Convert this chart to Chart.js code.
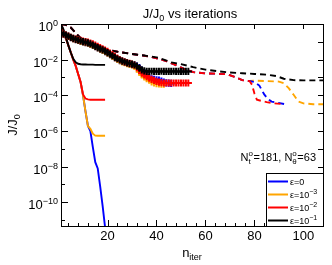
<!DOCTYPE html>
<html>
<head>
<meta charset="utf-8">
<script src="https://cdn.jsdelivr.net/npm/chart.js@4"></script>
<style>
  html, body { margin: 0; padding: 0; background: #fff; }
  canvas { display: block; }
</style>
</head>
<body>
<canvas id="chart" width="332" height="265"></canvas>
<script>
const FONT = '"Liberation Sans", Arial, sans-serif';

// Curvas continuas: iteraciones y log10(J/J0)
const solidIter = [1, 2, 3, 4, 5, 6, 7, 8, 9, 10, 11, 12, 13, 14, 15, 16, 17, 18, 19];
const blueSolid   = [0, -0.4, -0.8, -1.2, -1.6, -2.0, -2.35, -2.8, -3.25, -4.0, -4.9, -5.72, -6.0, -6.9, -7.75, -8.1, -9.1, -10.2, -11.4];
const orangeSolid = [0, -0.4, -0.8, -1.2, -1.6, -2.0, -2.35, -2.8, -3.25, -4.0, -4.9, -5.72, -5.88, -6.15, -6.26, -6.27, -6.27, -6.27, -6.27];
const redSolid    = [0, -0.4, -0.8, -1.2, -1.6, -2.0, -2.35, -2.8, -3.25, -3.95, -4.18, -4.23, -4.25, -4.25, -4.25, -4.25, -4.25, -4.25, -4.25];
const blackSolid  = [0, -0.3, -0.75, -1.2, -1.6, -1.95, -2.15, -2.23, -2.26, -2.27, -2.27, -2.28, -2.28, -2.28, -2.29, -2.29, -2.29, -2.29, -2.29];

// Curvas con cruces (una por iteración)
const plusIter = [1, 2, 3, 4, 5, 6, 7, 8, 9, 10, 11, 12, 13, 14, 15, 16, 17, 18, 19, 20,
  21, 22, 23, 24, 25, 26, 27, 28, 29, 30, 31, 32, 33, 34, 35, 36, 37, 38, 39, 40,
  41, 42, 43, 44, 45, 46, 47, 48, 49, 50, 51, 52, 53];
const blackPlus = [-0.5, -0.55, -0.62, -0.68, -0.75, -0.81, -0.86, -0.9, -0.95, -0.99,
  -1.02, -1.06, -1.12, -1.18, -1.25, -1.32, -1.39, -1.45, -1.52, -1.6,
  -1.69, -1.78, -1.87, -1.95, -2.02, -2.08, -2.13, -2.18, -2.22, -2.25,
  -2.29, -2.36, -2.47, -2.57, -2.63, -2.66, -2.66, -2.65, -2.66, -2.66,
  -2.66, -2.65, -2.66, -2.66, -2.66, -2.66, -2.65, -2.66, -2.66, -2.66,
  -2.66, -2.66, -2.66];
const redPlus = [-0.5, -0.55, -0.62, -0.68, -0.75, -0.8, -0.84, -0.88, -0.92, -0.96,
  -0.99, -1.02, -1.07, -1.12, -1.18, -1.25, -1.32, -1.39, -1.46, -1.54,
  -1.63, -1.72, -1.82, -1.91, -1.99, -2.06, -2.12, -2.17, -2.21, -2.25,
  -2.3, -2.4, -2.6, -2.75, -2.85, -2.95, -3.03, -3.1, -3.16, -3.22,
  -3.26, -3.29, -3.31, -3.31, -3.31, -3.31, -3.31, -3.31, -3.31, -3.31,
  -3.31, -3.31, -3.31];
const orangePlus = [-0.5, -0.56, -0.63, -0.7, -0.77, -0.83, -0.88, -0.92, -0.97, -1.01,
  -1.04, -1.08, -1.14, -1.2, -1.27, -1.34, -1.41, -1.48, -1.55, -1.63,
  -1.72, -1.81, -1.9, -1.98, -2.06, -2.12, -2.17, -2.22, -2.26, -2.3,
  -2.36, -2.5, -2.68, -2.85, -2.97, -3.06, -3.15, -3.24, -3.3, -3.34,
  -3.36, -3.37, -3.38];
const bluePlus = [-0.5, -0.56, -0.63, -0.7, -0.77, -0.83, -0.88, -0.92, -0.97, -1.01,
  -1.04, -1.08, -1.14, -1.2, -1.27, -1.34, -1.41, -1.48, -1.55, -1.63,
  -1.72, -1.81, -1.9, -1.98, -2.05, -2.1, -2.15, -2.2, -2.24, -2.28,
  -2.32, -2.36, -2.45, -2.6, -2.75, -2.9, -3.0, -3.07, -3.11, -3.13,
  -3.15, -3.2, -3.26, -3.3, -3.32, -3.33];

// Curvas discontinuas
const blackDashIter = [1, 3, 5, 7, 9, 11, 13, 16, 20, 25, 30, 35, 40, 43, 46, 50, 55, 60, 65, 70, 75, 80, 85, 89, 92, 96, 100, 108];
const blackDash = [0, -0.05, -0.2, -0.5, -0.8, -1.05, -1.22, -1.32, -1.45, -1.58, -1.68, -1.77, -1.87, -2.0, -2.15, -2.25, -2.42, -2.56, -2.65, -2.72, -2.76, -2.8, -2.84, -2.92, -3.07, -3.15, -3.16, -3.16];
const redDashIter = [1, 3, 5, 7, 9, 11, 13, 16, 20, 25, 30, 35, 38, 41, 44, 47, 51, 55, 60, 65, 69, 72, 75, 78, 79, 80, 81, 85, 88, 91];
const redDash = [0, -0.05, -0.2, -0.5, -0.8, -1.05, -1.22, -1.32, -1.45, -1.58, -1.68, -1.78, -1.85, -1.95, -2.08, -2.25, -2.5, -2.7, -2.77, -2.79, -2.82, -2.97, -3.15, -3.2, -3.4, -3.9, -4.25, -4.38, -4.45, -4.48];
const blueDashIter = [1, 3, 5, 7, 9, 11, 13, 16, 20, 25, 30, 35, 38, 41, 44, 47, 51, 55, 60, 65, 69, 72, 75, 78, 80, 82, 84, 85.5, 87, 92.5];
const blueDash = [0, -0.05, -0.2, -0.5, -0.8, -1.05, -1.22, -1.32, -1.45, -1.58, -1.68, -1.78, -1.85, -1.95, -2.08, -2.25, -2.5, -2.7, -2.77, -2.79, -2.82, -2.97, -3.15, -3.2, -3.25, -3.45, -3.95, -4.2, -4.35, -4.5];
const orangeDashIter = [1, 3, 5, 7, 9, 11, 13, 16, 20, 25, 30, 35, 38, 41, 44, 47, 51, 55, 60, 65, 69, 72, 75, 78, 80, 85, 90, 92, 94, 96, 98, 100, 104, 108];
const orangeDash = [0, -0.05, -0.2, -0.5, -0.8, -1.05, -1.22, -1.32, -1.45, -1.58, -1.68, -1.78, -1.85, -1.95, -2.08, -2.25, -2.5, -2.7, -2.77, -2.79, -2.82, -2.97, -3.15, -3.2, -3.18, -3.2, -3.23, -3.32, -3.6, -3.97, -4.35, -4.45, -4.5, -4.5];

// Ejes
const xMinorTicks = [4, 8, 12, 16, 20, 24, 28, 32, 36, 40, 44, 48, 52, 56, 60, 64, 68, 72, 76, 80, 84, 88, 92, 96, 100, 104];
const xTickLabels = [20, 40, 60, 80, 100];
const yDecades = [0, -1, -2, -3, -4, -5, -6, -7, -8, -9, -10, -11];
const yTickLabels = [0, -2, -4, -6, -8, -10];

// Leyenda
const legendColors = ["#0000ff", "#ffa500", "#ff0000", "#000000"];
const legendExp = ["", "\u22123", "\u22122", "\u22121"];

function toPoints(iters, exps) {
  return exps.map((e, i) => ({ x: iters[i], y: Math.pow(10, e) }));
}

function lineSet(iters, exps, color, dashed) {
  return {
    data: toPoints(iters, exps),
    borderColor: color,
    borderWidth: 1.9,
    borderDash: dashed ? [6, 4] : [],
    pointRadius: 0,
    tension: 0
  };
}

function plusSet(exps, color) {
  return {
    data: toPoints(plusIter, exps),
    showLine: false,
    pointStyle: "cross",
    pointRadius: 3.6,
    pointBorderWidth: 2,
    pointBorderColor: color,
    pointBackgroundColor: color,
    borderColor: color
  };
}

// dibuja texto con partes (texto, tamaño, desplazamiento vertical, avance opcional)
function drawParts(ctx, parts, x, y, align) {
  let total = 0;
  parts.forEach(p => {
    ctx.font = p[1] + "px " + FONT;
    p.w = (p[3] !== undefined) ? p[3] : ctx.measureText(p[0]).width;
    total += p.w;
  });
  let cx = align === "right" ? x - total : align === "center" ? x - total / 2 : x;
  ctx.textAlign = "left";
  ctx.textBaseline = "alphabetic";
  parts.forEach(p => {
    ctx.font = p[1] + "px " + FONT;
    ctx.fillText(p[0], cx, y + p[2]);
    cx += p.w;
  });
}

function seg(ctx, x1, y1, x2, y2) {
  ctx.beginPath();
  ctx.moveTo(x1, y1);
  ctx.lineTo(x2, y2);
  ctx.stroke();
}

const decoracion = {
  id: "decoracion",
  afterDatasetsDraw(chart) {
    const { ctx, chartArea: a, scales: { x, y } } = chart;
    ctx.save();
    ctx.strokeStyle = "#000";
    ctx.fillStyle = "#000";
    ctx.lineWidth = 1;

    // marcas del eje x (hacia dentro)
    xMinorTicks.forEach(v => {
      const px = Math.round(x.getPixelForValue(v)) + 0.5;
      const major = xTickLabels.includes(v);
      seg(ctx, px, a.bottom, px, a.bottom - (major ? 6 : 3));
      if (major) seg(ctx, px, a.top, px, a.top + 5);
    });
    // marcas del eje y
    yDecades.forEach(d => {
      const py = Math.round(y.getPixelForValue(Math.pow(10, d))) + 0.5;
      const major = yTickLabels.includes(d);
      seg(ctx, a.left, py, a.left + (major ? 7 : 4), py);
      seg(ctx, a.right, py, a.right - 5, py);
    });

    ctx.strokeRect(a.left + 0.5, a.top + 0.5, a.right - a.left, a.bottom - a.top);

    // etiquetas
    xTickLabels.forEach(v => {
      drawParts(ctx, [[String(v), 13, 0]], x.getPixelForValue(v), 240, "center");
    });
    yTickLabels.forEach(d => {
      const py = y.getPixelForValue(Math.pow(10, d));
      const e = d === 0 ? "0" : "\u2212" + (-d);
      drawParts(ctx, [["10", 13, 0], [e, 9, -5]], 58, py + 7, "right");
    });

    // título y ejes
    drawParts(ctx, [["J/J", 13, 0], ["0", 9, 3], [" vs iterations", 13, 0]], 190, 18, "center");
    drawParts(ctx, [["n", 13, 0], ["iter", 9, 3]], 192, 257, "center");
    ctx.save();
    ctx.translate(17, 125);
    ctx.rotate(-Math.PI / 2);
    drawParts(ctx, [["J/J", 13, 0], ["0", 9, 3]], 0, 0, "center");
    ctx.restore();

    // anotación
    drawParts(ctx, [
      ["N", 11, 0], ["o", 8, -5, 0], ["t", 8, 3, 5],
      ["=181, N", 11, 0], ["o", 8, -5, 0], ["\u03b8", 8, 3, 5],
      ["=63", 11, 0]
    ], 316, 161, "right");

    // leyenda
    ctx.fillStyle = "#fff";
    ctx.fillRect(266, 173, a.right - 266, a.bottom - 173);
    ctx.strokeStyle = "#000";
    ctx.strokeRect(266.5, 173.5, a.right - 266, a.bottom - 173);
    legendColors.forEach((c, i) => {
      const ry = 181 + i * 13;
      ctx.strokeStyle = c;
      ctx.lineWidth = 2;
      seg(ctx, 268, ry + 0.5, 288, ry + 0.5);
      ctx.fillStyle = "#000";
      const parts = i === 0 ? [["\u03b5=0", 9, 0]] : [["\u03b5=10", 9, 0], [legendExp[i], 7, -4]];
      drawParts(ctx, parts, 290, ry + 3.5, "left");
    });
    ctx.restore();
  }
};

const ctx = document.getElementById("chart").getContext("2d");
new Chart(ctx, {
  type: "line",
  data: {
    datasets: [
      plusSet(blackPlus, "#000000"),
      plusSet(redPlus, "#ff0000"),
      plusSet(orangePlus, "#ffa500"),
      plusSet(bluePlus, "#0000ff"),
      lineSet(solidIter, blackSolid, "#000000", false),
      lineSet(solidIter, redSolid, "#ff0000", false),
      lineSet(solidIter, orangeSolid, "#ffa500", false),
      lineSet(solidIter, blueSolid, "#0000ff", false),
      lineSet(blackDashIter, blackDash, "#000000", true),
      lineSet(redDashIter, redDash, "#ff0000", true),
      lineSet(blueDashIter, blueDash, "#0000ff", true),
      lineSet(orangeDashIter, orangeDash, "#ffa500", true)
    ]
  },
  options: {
    responsive: false,
    animation: false,
    devicePixelRatio: 1,
    layout: { padding: { left: 61, top: 24, right: 9, bottom: 39 } },
    scales: {
      x: { type: "linear", min: 1, max: 108, display: false },
      y: { type: "logarithmic", min: 4.7e-12, max: 1, display: false }
    },
    plugins: {
      legend: { display: false },
      tooltip: { enabled: false }
    }
  },
  plugins: [decoracion]
});
</script>
</body>
</html>
